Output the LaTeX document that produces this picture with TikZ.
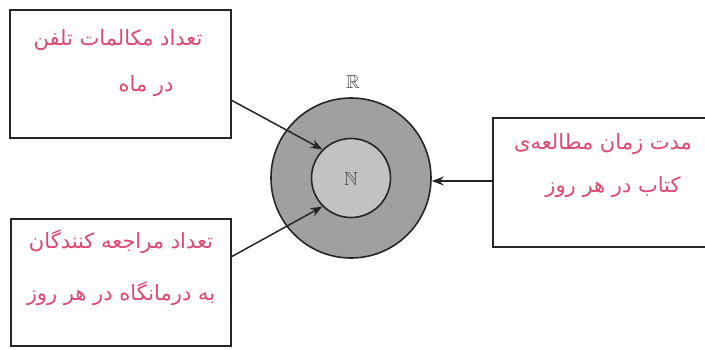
\documentclass[tikz,border=0pt]{standalone}
\usepackage{amssymb}
\usepackage{fontspec}
\newfontfamily\arabicfont[Script=Arabic]{DejaVu Sans}
\TeXXeTstate=1
\usetikzlibrary{arrows.meta}
\definecolor{inkred}{HTML}{E04870}
\definecolor{ringgray}{HTML}{A0A0A0}
\definecolor{coregray}{HTML}{C2C2C2}
\tikzset{
  x=1pt, y=-1pt,
  frame/.style={draw=black!85, line width=2pt},
  note/.style={text=inkred, font=\arabicfont\fontsize{21}{24}\selectfont, inner sep=0pt},
  setname/.style={font=\fontsize{19}{22}\selectfont, text=black!70},
  link/.style={draw=black!85, line width=1.5pt, -{Stealth[length=12pt,width=9pt]}},
}
\begin{document}
\begin{tikzpicture}
\useasboundingbox (0,0) rectangle (705,349);
\clip (0,0) rectangle (705,349);
\fill[white] (0,0) rectangle (705,349);

% boxes
\draw[frame] (10,10) rectangle (231,138);
\draw[frame] (11,219) rectangle (231,346);
\draw[frame] (493,118) rectangle (760,247);
\coordinate (tlA) at (231,100);
\coordinate (blA) at (231,257);
\coordinate (rA) at (493,181);

% labels inside the boxes
\node[note] (t1) at (118,40) {\beginR تعداد مکالمات تلفن\endR};
\node[note] (t2) at (146,86) {\beginR در ماه\endR};
\node[note] (b1) at (121,242) {\beginR تعداد مراجعه کنندگان\endR};
\node[note] (b2) at (121,294) {\beginR به درمانگاه در هر روز\endR};
\node[note] (r1) at (603,144) {\beginR مدت زمان مطالعه‌ی\endR};
\node[note] (r2) at (613,187) {\beginR کتاب در هر روز\endR};

% nested sets
\node[circle, draw=black!85, line width=1.6pt, fill=ringgray, minimum size=160pt, inner sep=0pt] (R) at (351,178) {};
\node[circle, draw=black!85, line width=1.6pt, fill=coregray, minimum size=79pt, inner sep=0pt] (N) at (351,178) {};
\node[setname] (Nl) at (351,179) {$\mathbb{N}$};
\node[setname] (Rl) at (353,82) {$\mathbb{R}$};

% connectors
\draw[link] (tlA) -- (N.135);
\draw[link] (blA) -- (N.-135);
\draw[link] (rA) -- (R.east |- rA);
\end{tikzpicture}
\end{document}
